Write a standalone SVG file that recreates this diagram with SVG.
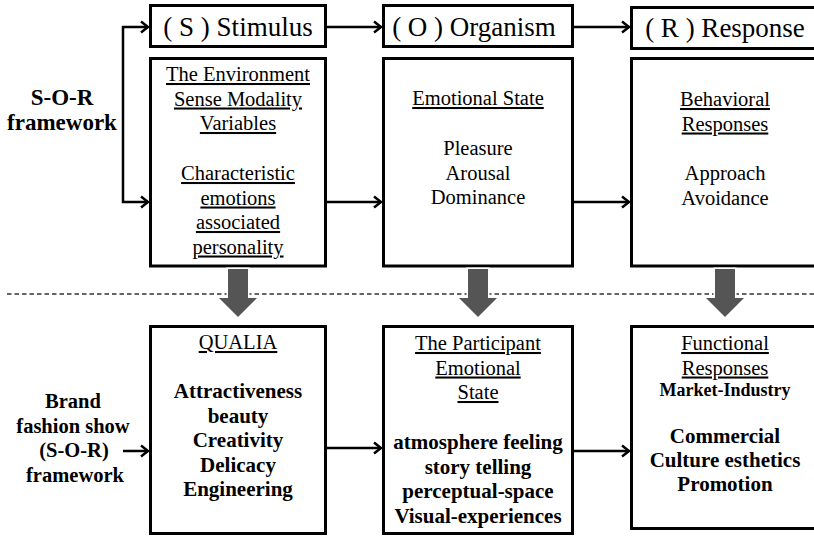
<svg xmlns="http://www.w3.org/2000/svg" width="814" height="536" viewBox="0 0 814 536">
<defs>
<style>
.box{fill:#fff;stroke:#000;stroke-width:3}
.hd{font-family:"Liberation Serif","Times New Roman",serif;font-size:27px;text-anchor:middle;fill:#000}
.t{font-family:"Liberation Serif","Times New Roman",serif;font-size:20.5px;text-anchor:middle;fill:#000}
.u{text-decoration:underline}
.b{font-family:"Liberation Serif","Times New Roman",serif;font-size:21px;font-weight:bold;text-anchor:middle;fill:#000}
.con{fill:none;stroke:#000;stroke-width:2.5}
.blk{fill:#555;stroke:#fff;stroke-width:3;paint-order:stroke}
</style>
<marker id="ah" markerUnits="userSpaceOnUse" markerWidth="14" markerHeight="14" refX="10" refY="7" orient="auto-start-reverse">
<path d="M3,1.5 L10,7 L3,12.5" fill="none" stroke="#000" stroke-width="2.5"/>
</marker>
</defs>
<rect width="814" height="536" fill="#fff"/>

<line x1="7" y1="294" x2="814" y2="294" stroke="#333" stroke-width="1.5" stroke-dasharray="4.5 3"/>

<g id="label-sor">
<text class="b" style="font-size:23px" x="62" y="105">S-O-R</text>
<text class="b" style="font-size:23px" x="62" y="130">framework</text>
</g>
<g id="label-brand">
<text class="b" style="font-size:20.5px" x="73" y="408">Brand</text>
<text class="b" style="font-size:20.5px" x="73" y="432.5">fashion show</text>
<text class="b" style="font-size:20.5px" x="74" y="457">(S-O-R)</text>
<text class="b" style="font-size:20.5px" x="75" y="481.5">framework</text>
</g>

<g id="hdr-s">
<rect class="box" x="150.5" y="5.5" width="175" height="41"/>
<text class="hd" x="238" y="36">( S ) Stimulus</text>
</g>
<g id="hdr-o">
<rect class="box" x="383.5" y="5.5" width="189" height="41"/>
<text class="hd" x="474" y="36">( O ) Organism</text>
</g>
<g id="hdr-r">
<rect class="box" x="631.5" y="7.5" width="200" height="41"/>
<text class="hd" x="725" y="37">( R ) Response</text>
</g>

<g id="box-s">
<rect class="box" x="150.5" y="58.5" width="175" height="207.5"/>
<text class="t u" x="238" y="81">The Environment</text>
<text class="t u" x="238" y="105.5">Sense Modality</text>
<text class="t u" x="238" y="130">Variables</text>
<text class="t u" x="238" y="180">Characteristic</text>
<text class="t u" x="238" y="204.5">emotions</text>
<text class="t u" x="238" y="229">associated</text>
<text class="t u" x="238" y="253.5">personality</text>
</g>
<g id="box-o">
<rect class="box" x="383.5" y="58.5" width="189" height="207.5"/>
<text class="t u" x="478" y="105">Emotional State</text>
<text class="t" x="478" y="155">Pleasure</text>
<text class="t" x="478" y="179.5">Arousal</text>
<text class="t" x="478" y="204">Dominance</text>
</g>
<g id="box-r">
<rect class="box" x="631.5" y="58.5" width="200" height="207.5"/>
<text class="t u" x="725" y="106">Behavioral</text>
<text class="t u" x="725" y="130.5">Responses</text>
<text class="t" x="725" y="180">Approach</text>
<text class="t" x="725" y="204.5">Avoidance</text>
</g>

<g id="box-qualia">
<rect class="box" x="150.5" y="326.5" width="175" height="207"/>
<text class="t u" x="238" y="349">QUALIA</text>
<text class="b" x="238" y="398">Attractiveness</text>
<text class="b" x="238" y="422.5">beauty</text>
<text class="b" x="238" y="447">Creativity</text>
<text class="b" x="238" y="471.5">Delicacy</text>
<text class="b" x="238" y="496">Engineering</text>
</g>
<g id="box-participant">
<rect class="box" x="383.5" y="326.5" width="189" height="207"/>
<text class="t u" x="478" y="350">The Participant</text>
<text class="t u" x="478" y="374.5">Emotional</text>
<text class="t u" x="478" y="399">State</text>
<text class="b" x="478" y="449">atmosphere feeling</text>
<text class="b" x="478" y="473.5">story telling</text>
<text class="b" x="478" y="498">perceptual-space</text>
<text class="b" x="478" y="522.5">Visual-experiences</text>
</g>
<g id="box-functional">
<rect class="box" x="631.5" y="326.5" width="200" height="202"/>
<text class="t u" x="725" y="350">Functional</text>
<text class="t u" x="725" y="374.5">Responses</text>
<text class="b" style="font-size:18px" x="725" y="396">Market-Industry</text>
<text class="b" x="725" y="443">Commercial</text>
<text class="b" x="725" y="467">Culture esthetics</text>
<text class="b" x="725" y="491">Promotion</text>
</g>

<g id="connectors">
<path class="con" d="M148,27 H123 V202 H148" marker-start="url(#ah)" marker-end="url(#ah)"/>
<path class="con" d="M326,27 H381" marker-end="url(#ah)"/>
<path class="con" d="M573,27 H629" marker-end="url(#ah)"/>
<path class="con" d="M325,202 H381" marker-end="url(#ah)"/>
<path class="con" d="M573,202 H629" marker-end="url(#ah)"/>
<path class="con" d="M123,451 H148" marker-end="url(#ah)"/>
<path class="con" d="M325,448 H381" marker-end="url(#ah)"/>
<path class="con" d="M573,451 H629" marker-end="url(#ah)"/>
<polygon class="blk" points="228,269 248,269 248,298 257,298 238,317 219,298 228,298"/>
<polygon class="blk" points="468,269 488,269 488,298 497,298 478,317 459,298 468,298"/>
<polygon class="blk" points="715,269 735,269 735,298 744,298 725,317 706,298 715,298"/>
</g>
</svg>
